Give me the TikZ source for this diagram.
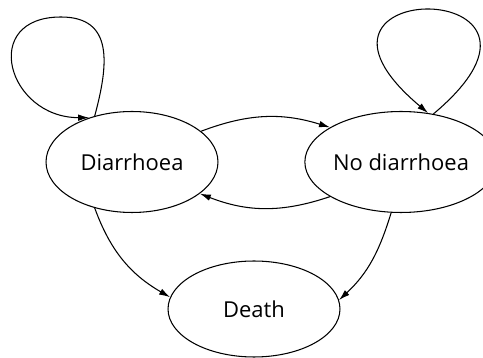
\documentclass[tikz,border=0pt]{standalone}
\usepackage{fontspec}
\setmainfont{Open Sans}
\usepackage{tikz}
\usetikzlibrary{arrows.meta,shapes.geometric}
\tikzset{
state/.style={
  draw, ellipse,
  inner sep=0pt,
  line width=0.6pt,
  font=\fontsize{12.5}{15}\selectfont
},
trans/.style={
  -{Latex[length=2.2mm,width=1.3mm]},
  line width=0.6pt
},
}

\begin{document}
\begin{tikzpicture}[x=0.02cm,y=0.02cm]
            \useasboundingbox (0,0) rectangle (483,358);
            \node[state,minimum width=3.44cm,minimum height=2.02cm] (dia)   at (132,196) {Diarrhoea};
            \node[state,minimum width=3.24cm,minimum height=2.02cm] (nodia) at (401,196) {No diarrhoea};
            \node[state,minimum width=3.44cm,minimum height=1.92cm] (death) at (254,49)  {Death};
            \coordinate (diatop) at (61,341);
            % staying in the same state
            \draw[trans] (dia.129) to[out=75,in=0,looseness=1.3] (diatop)
                                   to[out=180,in=180,looseness=2] (dia.134);
            \draw[trans] (nodia.56) to[out=40,in=140,distance=4.3cm] (nodia.61);
            % moving between states
            \draw[trans] (dia.24) to[bend left=19] (nodia.154);
            \draw[trans] (nodia.206) to[bend left=20] (dia.335);
            \draw[trans] (dia.231) to[out=-70,in=150] (death.172);
            \draw[trans] (nodia.259) to[out=253,in=43] (death.6);
        \end{tikzpicture}
\end{document}
